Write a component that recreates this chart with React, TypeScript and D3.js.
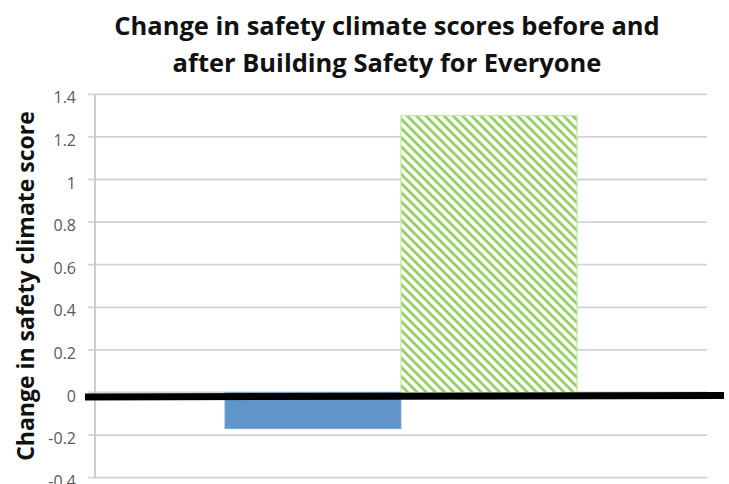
import React from 'react';
import * as d3 from 'd3';

const categories = [''];
const seriesNames = ['Comparison', 'Intervention'];
const seriesValues = [-0.17, 1.3];
const tickValues = [-0.4, -0.2, 0, 0.2, 0.4, 0.6, 0.8, 1, 1.2, 1.4];
const titleLines = [
  'Change in safety climate scores before and',
  'after Building Safety for Everyone',
];
const yTitle = 'Change in safety climate score';

const width = 729;
const height = 484;
const plotLeft = 95;
const plotRight = 707;
const plotTop = 94.3;
const plotBottom = 477.7;

const App = () => {
  const y = d3.scaleLinear().domain([-0.4, 1.4]).range([plotBottom, plotTop]);

  // single category, Excel-style gap on each side
  const xCat = d3.scaleBand()
    .domain(categories)
    .range([plotLeft, plotRight])
    .paddingInner(0)
    .paddingOuter(0.369);

  const xSeries = d3.scaleBand()
    .domain(seriesNames)
    .range([0, xCat.bandwidth()]);

  const fmt = (v: number) => String(+v.toFixed(1));
  const y0 = y(0);

  return (
    <svg
      width={width}
      height={height}
      style={{ position: 'absolute', left: 0, top: 0, background: '#fff' }}
      fontFamily="'Open Sans', sans-serif"
    >
      <defs>
        <pattern id="diag" width="6.5" height="6.5" patternUnits="userSpaceOnUse"
          patternTransform="rotate(-45)">
          <rect width="6.5" height="6.5" fill="#fff" />
          <line x1="1.5" y1="0" x2="1.5" y2="6.5" stroke="#93CF5F" strokeWidth="2.8" />
        </pattern>
      </defs>

      {titleLines.map((t, i) => (
        <text key={i} x={387} y={35 + i * 37} textAnchor="middle"
          fontSize={25.5} fontWeight="bold" fill="#111">{t}</text>
      ))}

      <text
        transform={`translate(34,286) rotate(-90)`}
        textAnchor="middle"
        fontSize={23}
        fontWeight="bold"
        fill="#111"
      >{yTitle}</text>

      {tickValues.map(v => (
        <g key={v}>
          <line x1={88} x2={plotRight} y1={y(v)} y2={y(v)} stroke="#D3D3D3" strokeWidth={1.8} />
          <text x={76} y={y(v) + 9} textAnchor="end" fontSize={16} fill="#595959">{fmt(v)}</text>
        </g>
      ))}
      <line x1={plotLeft} x2={plotLeft} y1={plotTop} y2={plotBottom} stroke="#C8C8C8" strokeWidth={1.8} />

      {categories.map(c => (
        <g key={c} transform={`translate(${xCat(c)},0)`}>
          {seriesNames.map((s, i) => {
            const v = seriesValues[i];
            const top = Math.min(y(v), y0);
            const h = Math.abs(y(v) - y0);
            return i === 0 ? (
              <rect key={s} x={xSeries(s)} y={top} width={xSeries.bandwidth()} height={h}
                fill="#5F95C9" stroke="#7BA7D3" strokeWidth={0.8} />
            ) : (
              <rect key={s} x={xSeries(s)} y={top} width={xSeries.bandwidth()} height={h}
                fill="url(#diag)" stroke="#C4E5A6" strokeWidth={1.2} />
            );
          })}
        </g>
      ))}

      {/* hand-drawn thick zero line, slightly tilted */}
      <line x1={85} y1={y0 + 4.5} x2={724} y2={y0 + 3} stroke="#000" strokeWidth={7} />
    </svg>
  );
};

export default App;
